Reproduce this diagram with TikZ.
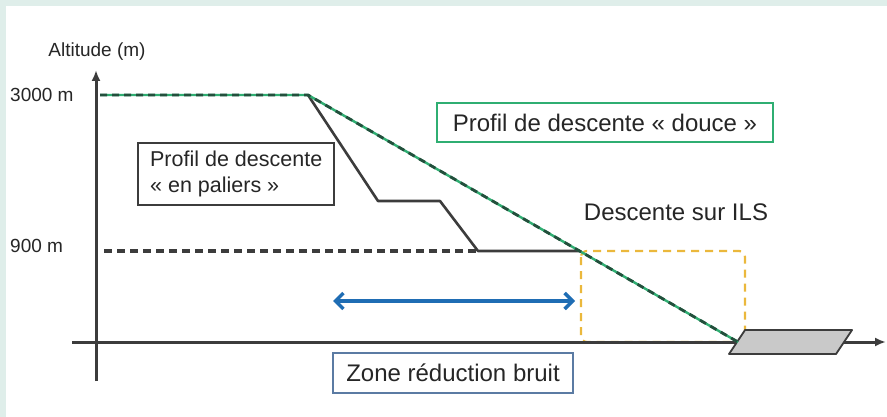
\documentclass[tikz,border=0pt]{standalone}
\usepackage{fontspec}
\setmainfont{Liberation Sans}
\usetikzlibrary{arrows.meta}
\definecolor{frameteal}{HTML}{DFEEEA}
\definecolor{axisgray}{HTML}{3C3C3C}
\definecolor{douce}{HTML}{2FAE72}
\definecolor{doucedark}{HTML}{234F3C}
\definecolor{ils}{HTML}{EBB83C}
\definecolor{zoneblue}{HTML}{1F6DB4}
\definecolor{zoneframe}{HTML}{5B7BA3}
\definecolor{runway}{HTML}{C9C9C9}
\tikzset{
  axisline/.style={draw=axisgray, line width=3pt, -{Latex[length=11pt,width=9pt]}},
  profil/.style={draw=axisgray, line width=2.6pt},
  niveau/.style={draw=axisgray, line width=3.2pt, dash pattern=on 8pt off 5pt},
  vertbase/.style={draw=douce, line width=2.4pt},
  vertdash/.style={draw=doucedark, line width=2.8pt, dash pattern=on 7pt off 5pt},
  ilsbox/.style={draw=ils, line width=2.2pt, dash pattern=on 8pt off 6pt, rounded corners=6pt},
  smalltxt/.style={font=\fontsize{19}{22}\selectfont, text=black!85, inner sep=0pt},
  bigtxt/.style={font=\fontsize{24}{28}\selectfont, text=black!85},
  labelbox/.style={line width=2.4pt, inner sep=0pt},
}
\begin{document}
\begin{tikzpicture}[x=1pt,y=-1pt]
\fill[frameteal] (0,0) rectangle (887,417);
\fill[white] (6,6) rectangle (887,417);
\useasboundingbox (0,0) rectangle (887,417);

% axes
\coordinate (ybot) at (96,381);
\coordinate (ytop) at (96,70);
\coordinate (xleft) at (72,342);
\coordinate (xright) at (886,342);

% profile points
\coordinate (h0) at (100,95);
\coordinate (p0) at (308,95);
\coordinate (p1) at (378,201);
\coordinate (p2) at (440,201);
\coordinate (p3) at (478,251);
\coordinate (p4) at (580,251);
\coordinate (d0) at (104,251);
\coordinate (td) at (738,342);

% ILS box
\draw[ilsbox] (581,251) rectangle (745,342);

% axes
\draw[axisline] (ybot) -- (ytop);
\draw[axisline] (xleft) -- (xright);

% runway
\draw[draw=axisgray, fill=runway, line width=1.8pt, line join=round]
  (729,354) -- (836,354) -- (852,330) -- (745,330) -- cycle;

% stepped profile
\draw[niveau] (d0) -- (p3);
\draw[profil, line join=round] (p0) -- (p1) -- (p2) -- (p3) -- (p4);

% smooth profile
\draw[vertbase] (h0) -- (p0) -- (td);
\draw[vertdash] (h0) -- (p0) -- (td);

% blue arrow
\coordinate (za) at (333,301);
\coordinate (zb) at (575,301);
\draw[draw=zoneblue, line width=3.4pt, {Straight Barb[length=8pt,width=16pt,line width=3.4pt]}-{Straight Barb[length=8pt,width=16pt,line width=3.4pt]}] (za) -- (zb);

% labels
\node[smalltxt] (alt) at (97,52) {Altitude (m)};
\node[smalltxt, anchor=west] (l3000) at (10,95) {3000 m};
\node[smalltxt, anchor=west] (l900) at (10,246) {900 m};

\node[labelbox, draw=axisgray, anchor=north west, minimum width=196pt, minimum height=62pt,
  align=left, font=\fontsize{21.5}{26}\selectfont, text=black!85] (paliers) at (137,142)
  {Profil de descente\\« en paliers »};

\node[labelbox, draw=douce, bigtxt, minimum width=336pt, minimum height=39pt] (doucebox) at (605,122.5)
  {Profil de descente « douce »};

\node[bigtxt, inner sep=0pt] (ilslabel) at (676,212) {Descente sur ILS};

\node[labelbox, draw=zoneframe, bigtxt, minimum width=240pt, minimum height=40pt] (zone) at (453,373)
  {Zone réduction bruit};
\end{tikzpicture}
\end{document}
